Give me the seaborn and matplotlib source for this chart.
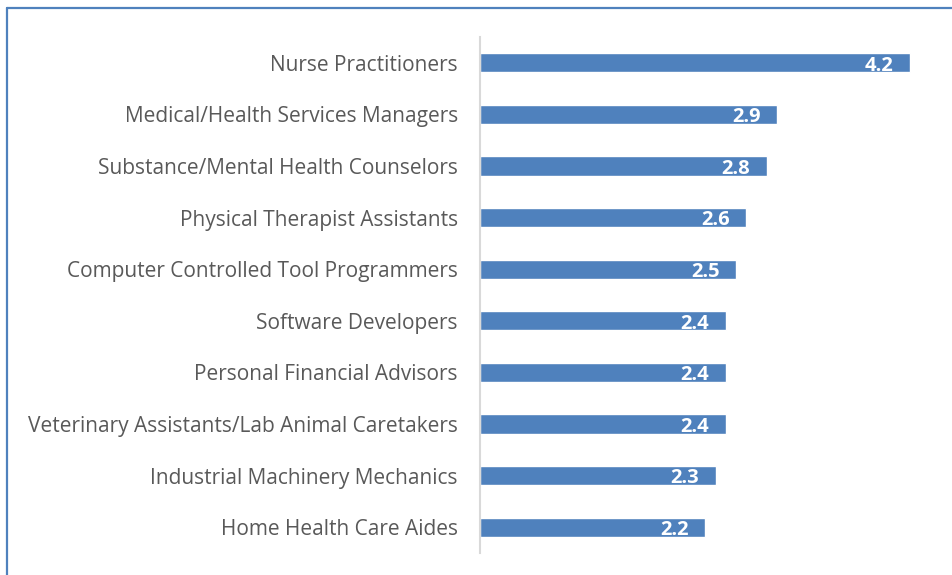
import matplotlib
matplotlib.use("Agg")
import matplotlib.pyplot as plt
import seaborn as sns
import pandas as pd
from matplotlib.lines import Line2D

occupations = [
    "Nurse Practitioners",
    "Medical/Health Services Managers",
    "Substance/Mental Health Counselors",
    "Physical Therapist Assistants",
    "Computer Controlled Tool Programmers",
    "Software Developers",
    "Personal Financial Advisors",
    "Veterinary Assistants/Lab Animal Caretakers",
    "Industrial Machinery Mechanics",
    "Home Health Care Aides",
]
ratios = [4.2, 2.9, 2.8, 2.6, 2.5, 2.4, 2.4, 2.4, 2.3, 2.2]

df = pd.DataFrame({"occupation": occupations, "ratio": ratios})

sns.set_style("white")
plt.rcParams["font.family"] = ["Open Sans", "DejaVu Sans"]

fig = plt.figure(figsize=(9.52, 5.75), dpi=100)
ax = fig.add_axes([480 / 952, 1 - 553 / 575, 460 / 952, 516 / 575])

sns.barplot(data=df, x="ratio", y="occupation", color="#4F81BD",
            saturation=1, width=0.37, ax=ax)

ax.set_xlim(0, 4.49)
ax.set_ylim(9.5, -0.5)
ax.set_xlabel("")
ax.set_ylabel("")
ax.set_xticks([])
ax.tick_params(axis="y", length=0, pad=16, labelsize=15, labelcolor="#595959")

for s in ["top", "right", "bottom"]:
    ax.spines[s].set_visible(False)
ax.spines["left"].set_color("#D9D9D9")
ax.spines["left"].set_linewidth(1.5)

labels = ax.bar_label(ax.containers[0], fmt="%.1f", padding=-12,
                      color="white", fontsize=14.5, fontweight="bold")
for t in labels:
    t.set_ha("right")
    t.xyann = (-12, -2)

# outer frame (only top and left edges are visible in the crop)
fig.add_artist(Line2D([7 / 952, 1.0], [1 - 8 / 575, 1 - 8 / 575],
                      color="#4F81BD", lw=1.6, transform=fig.transFigure))
fig.add_artist(Line2D([7 / 952, 7 / 952], [0.0, 1 - 8 / 575],
                      color="#4F81BD", lw=1.6, transform=fig.transFigure))

fig.savefig("out.png", dpi=100)
